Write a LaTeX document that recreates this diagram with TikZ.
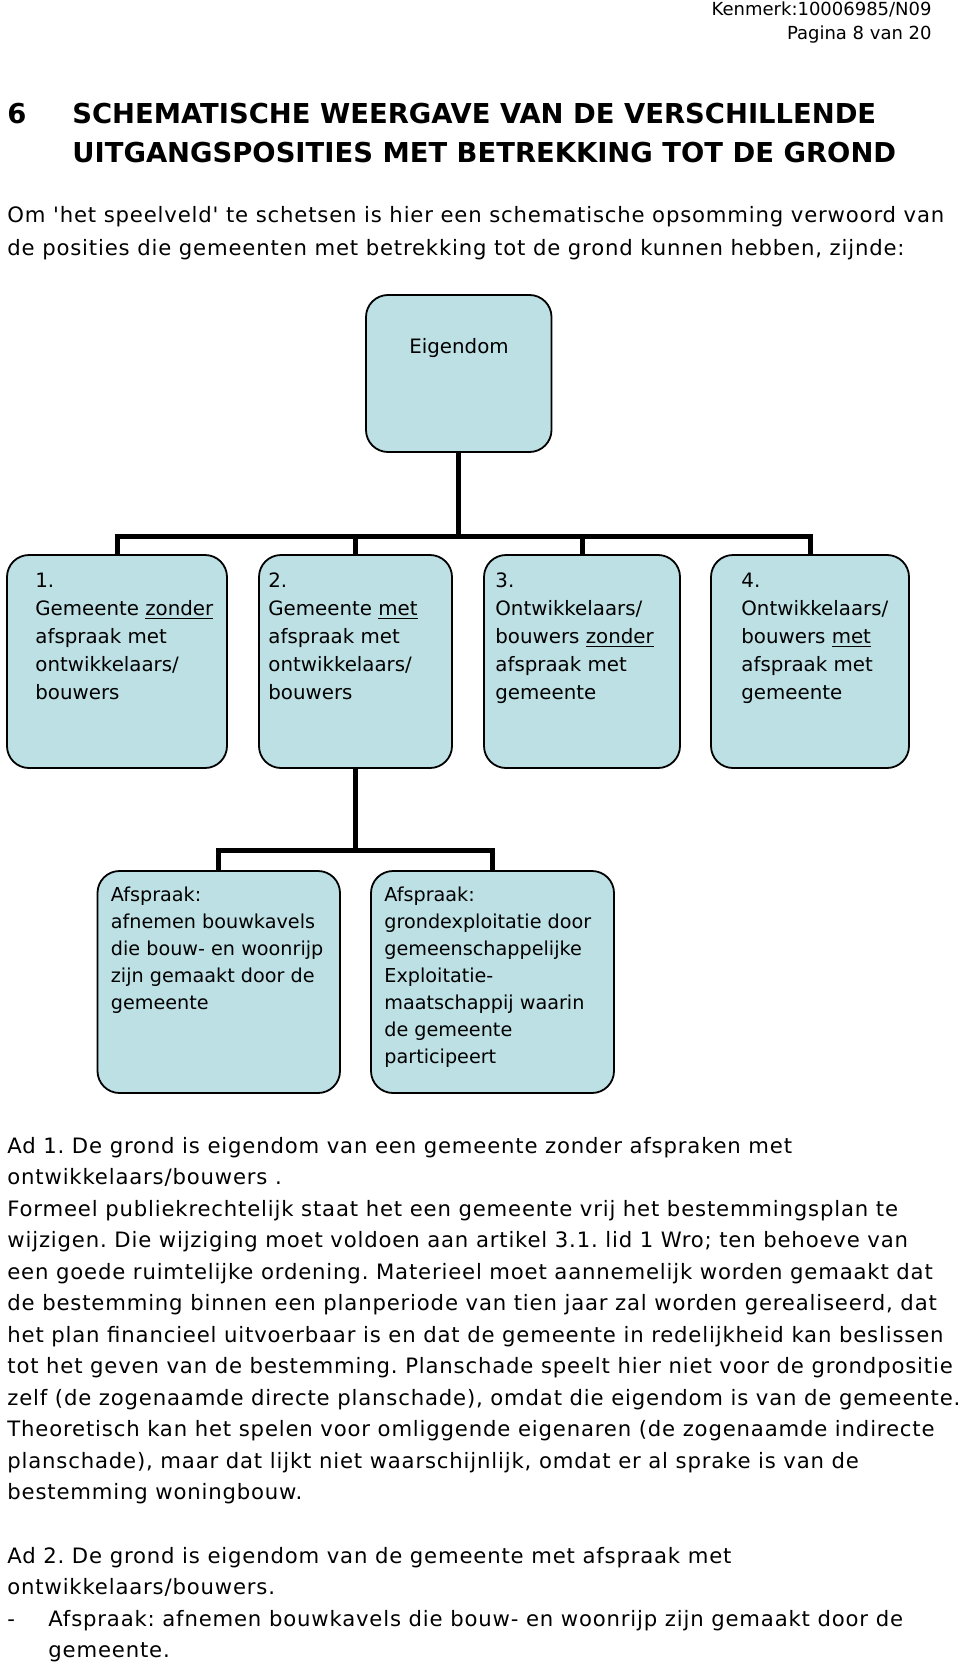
\documentclass[tikz,border=0pt]{standalone}
\usepackage{fontspec}
\setmainfont{DejaVu Sans}[Ligatures=TeXOff]
\newfontfamily\brood{DejaVu Sans}[Ligatures=TeXOff,LetterSpace=3.9]
\usetikzlibrary{positioning}
\definecolor{vakblauw}{RGB}{188,224,228}
\tikzstyle{tak} = [draw, line width=2.5pt]

\begin{document}
\frenchspacing
\begin{tikzpicture}[
	x=0.5pt, y=-0.5pt,
	positie/.style={
		rectangle,
		rounded corners=11pt,
		line width=0.9pt,
		draw=black,
		fill=vakblauw,
		inner sep=0pt,
	},
	vaktekst/.style={
		anchor=base west,
		align=left,
		inner sep=0pt,
		font=\fontsize{9.9}{14}\selectfont,
	},
	kleintekst/.style={
		vaktekst,
		font=\fontsize{9.6}{13.5}\selectfont,
	},
	broodtekst/.style={
		anchor=base west,
		align=left,
		inner sep=0pt,
		font=\brood\fontsize{10.6}{15.75}\selectfont,
	},
	kop/.style={
		anchor=base west,
		align=left,
		inner sep=0pt,
		font=\fontsize{13.7}{19.2}\selectfont\bfseries,
	}
]
	\useasboundingbox (0,0) rectangle (960,1664);

	% kop van de pagina (base = laatste regel)
	\node (kenmerk) [anchor=base east,align=right,inner sep=0pt,
		font=\fontsize{9}{12}\selectfont] at (932,40)
		{Kenmerk:10006985/N09\\Pagina 8 van 20};
	\node (nr) [kop] at (7,124) {6};
	\node (titel) [kop] at (72,162.4)
		{SCHEMATISCHE WEERGAVE VAN DE VERSCHILLENDE\\UITGANGSPOSITIES MET BETREKKING TOT DE GROND};
	\node (intro) [broodtekst,font=\brood\fontsize{10.6}{16.5}\selectfont] at (7,256)
		{Om 'het speelveld' te schetsen is hier een schematische opsomming verwoord van\\
		de posities die gemeenten met betrekking tot de grond kunnen hebben, zijnde:};

	% schema
	\node (eig) [positie,minimum width=92.75pt,minimum height=78.5pt] at (458.75,373.5) {};
	\node (eigtekst) [anchor=base,inner sep=0pt,font=\fontsize{9.9}{14}\selectfont] at (459,353)
		{Eigendom};

	\node (b1) [positie,minimum width=110pt,minimum height=106.5pt] at (117,661.5) {};
	\node (b2) [positie,minimum width=96.5pt,minimum height=106.5pt] at (355.5,661.5) {};
	\node (b3) [positie,minimum width=98pt,minimum height=106.5pt] at (582,661.5) {};
	\node (b4) [positie,minimum width=99pt,minimum height=106.5pt] at (810,661.5) {};

	\node (t1) [vaktekst] at (35,699)
		{1.\\Gemeente \underline{zonder}\\afspraak met\\ontwikkelaars/\\bouwers};
	\node (t2) [vaktekst] at (268,699)
		{2.\\Gemeente \underline{met}\\afspraak met\\ontwikkelaars/\\bouwers};
	\node (t3) [vaktekst] at (495,699)
		{3.\\Ontwikkelaars/\\bouwers \underline{zonder}\\afspraak met\\gemeente};
	\node (t4) [vaktekst] at (741,699)
		{4.\\Ontwikkelaars/\\bouwers \underline{met}\\afspraak met\\gemeente};

	\node (bA) [positie,minimum width=121.25pt,minimum height=111pt] at (218.75,982) {};
	\node (bB) [positie,minimum width=121.5pt,minimum height=111pt] at (492.5,982) {};

	\node (tA) [kleintekst] at (110.5,1009)
		{Afspraak:\\afnemen bouwkavels\\die bouw- en woonrijp\\zijn gemaakt door de\\gemeente};
	\node (tB) [kleintekst] at (384,1063)
		{Afspraak:\\grondexploitatie door\\gemeenschappelijke\\Exploitatie-\\maatschappij waarin\\de gemeente\\participeert};

	\coordinate (bus) at (458.75,536);
	\coordinate (bus2) at (355.5,850);

	\draw [tak] (eig) -- (bus);
	\draw [tak] (b1) |- (bus) -| (b4);
	\draw [tak] (b2) -- (b2 |- bus);
	\draw [tak] (b3) -- (b3 |- bus);
	\draw [tak] (b2) -- (bus2);
	\draw [tak] (bA) |- (bus2) -| (bB);

	% toelichting
	\node (ad1) [broodtekst] at (7,1499.5)
		{Ad 1. De grond is eigendom van een gemeente zonder afspraken met\\
		ontwikkelaars/bouwers .\\
		Formeel publiekrechtelijk staat het een gemeente vrij het bestemmingsplan te\\
		wijzigen. Die wijziging moet voldoen aan artikel 3.1. lid 1 Wro; ten behoeve van\\
		een goede ruimtelijke ordening. Materieel moet aannemelijk worden gemaakt dat\\
		de bestemming binnen een planperiode van tien jaar zal worden gerealiseerd, dat\\
		het plan financieel uitvoerbaar is en dat de gemeente in redelijkheid kan beslissen\\
		tot het geven van de bestemming. Planschade speelt hier niet voor de grondpositie\\
		zelf (de zogenaamde directe planschade), omdat die eigendom is van de gemeente.\\
		Theoretisch kan het spelen voor omliggende eigenaren (de zogenaamde indirecte\\
		planschade), maar dat lijkt niet waarschijnlijk, omdat er al sprake is van de\\
		bestemming woningbouw.};
	\node (ad2) [broodtekst] at (7,1657.5)
		{Ad 2. De grond is eigendom van de gemeente met afspraak met\\
		ontwikkelaars/bouwers.\\
		\makebox[20.5pt][l]{-}Afspraak: afnemen bouwkavels die bouw- en woonrijp zijn gemaakt door de\\
		\hspace*{20.5pt}gemeente.};

\end{tikzpicture}
\end{document}
